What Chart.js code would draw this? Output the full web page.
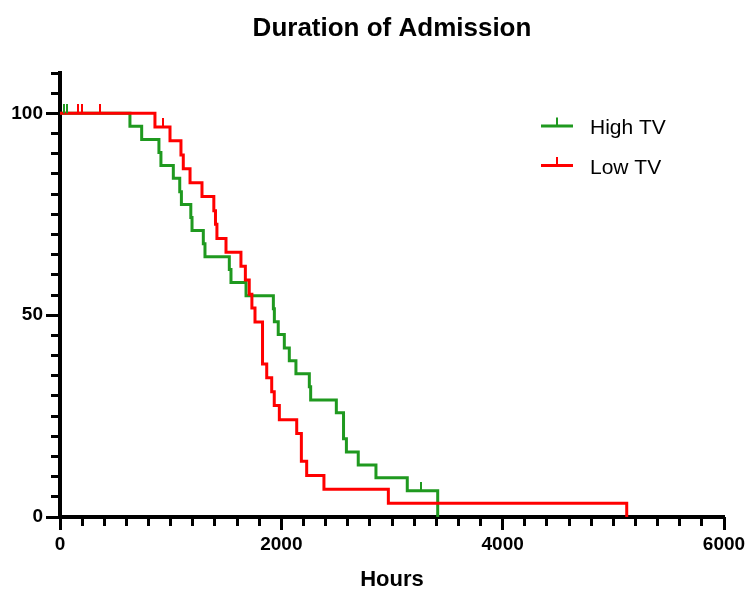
<!DOCTYPE html>
<html>
<head>
<meta charset="utf-8">
<script src="https://cdn.jsdelivr.net/npm/chart.js@4.4.1/dist/chart.umd.min.js"></script>
<style>html,body{margin:0;padding:0;background:#fff}canvas{display:block}</style>
</head>
<body>
<canvas id="c" width="750" height="590"></canvas>
<script>
// ---- data ----
const chartTitle = 'Duration of Admission';
const xAxisTitle = 'Hours';
const seriesNames = ['High TV', 'Low TV'];

const highTimes = [0, 632, 738, 894, 912, 1024, 1082, 1097, 1182, 1193, 1295, 1310, 1530, 1545, 1681, 1928, 1937, 1972, 2027, 2072, 2132, 2253, 2265, 2497, 2562, 2588, 2695, 2855, 3138, 3413];
const highSurv  = [100, 96.8, 93.5, 90.3, 87.1, 83.9, 80.6, 77.4, 74.2, 71.0, 67.7, 64.5, 61.3, 58.1, 54.8, 51.6, 48.4, 45.2, 41.9, 38.7, 35.5, 32.3, 29.0, 25.8, 19.4, 16.1, 12.9, 9.7, 6.5, 0];

const lowTimes = [0, 858, 994, 1093, 1114, 1175, 1283, 1390, 1405, 1418, 1500, 1635, 1675, 1710, 1734, 1762, 1830, 1868, 1913, 1936, 1982, 2139, 2181, 2229, 2385, 2967, 5121];
const lowSurv  = [100, 96.6, 93.2, 89.7, 86.3, 82.8, 79.4, 75.9, 72.5, 69.0, 65.6, 62.1, 58.7, 55.2, 51.8, 48.3, 37.9, 34.5, 31.0, 27.6, 24.1, 20.7, 13.8, 10.3, 6.9, 3.4, 0];

const highCensorTimes = [39, 66, 3259];
const highCensorSurv  = [100, 100, 6.5];
const lowCensorTimes  = [160, 196, 364, 933];
const lowCensorSurv   = [100, 100, 100, 96.6];

const xTickValues = [0, 2000, 4000, 6000];
const yTickValues = [0, 50, 100];

// ---- styling ----
const GREEN = '#1f991f';
const RED = '#ff0000';
const FONT = '"Liberation Sans", Arial, Helvetica, sans-serif';

function pts(xs, ys) { return xs.map((x, i) => ({x: x, y: ys[i]})); }

function censorMark(color) {
  const c = document.createElement('canvas');
  c.width = 2; c.height = 18;
  const g = c.getContext('2d');
  g.fillStyle = color;
  g.fillRect(0, 0, 2, 9);
  return c;
}

const legendPlugin = {
  id: 'kmLegend',
  afterDatasetsDraw(chart) {
    const ctx = chart.ctx;
    const items = [{label: seriesNames[0], color: GREEN}, {label: seriesNames[1], color: RED}];
    const x0 = 541, x1 = 573, xt = 590;
    const rows = [126, 165.5];
    ctx.save();
    items.forEach((it, i) => {
      const y = rows[i];
      ctx.strokeStyle = it.color;
      ctx.lineCap = 'butt';
      ctx.lineWidth = 3;
      ctx.beginPath(); ctx.moveTo(x0, y); ctx.lineTo(x1, y); ctx.stroke();
      ctx.lineWidth = 2;
      ctx.beginPath(); ctx.moveTo((x0 + x1) / 2, y); ctx.lineTo((x0 + x1) / 2, y - 8.5); ctx.stroke();
      ctx.fillStyle = '#000';
      ctx.font = '21px ' + FONT;
      ctx.textAlign = 'left';
      ctx.textBaseline = 'alphabetic';
      ctx.fillText(it.label, xt, y + 8);
    });
    ctx.restore();
  }
};

const tickFmt = v => String(v);

new Chart(document.getElementById('c'), {
  type: 'scatter',
  data: {
    datasets: [
      {
        label: seriesNames[0], type: 'line', data: pts(highTimes, highSurv),
        stepped: 'before', borderColor: GREEN, borderWidth: 3, pointRadius: 0,
        fill: false, order: 3, borderCapStyle: 'butt', borderJoinStyle: 'miter'
      },
      {
        label: seriesNames[1], type: 'line', data: pts(lowTimes, lowSurv),
        stepped: 'before', borderColor: RED, borderWidth: 3, pointRadius: 0,
        fill: false, order: 2, borderCapStyle: 'butt', borderJoinStyle: 'miter'
      },
      {
        label: seriesNames[0] + ' censored', data: pts(highCensorTimes, highCensorSurv),
        showLine: false, pointStyle: censorMark(GREEN), pointRadius: 5, order: 1
      },
      {
        label: seriesNames[1] + ' censored', data: pts(lowCensorTimes, lowCensorSurv),
        showLine: false, pointStyle: censorMark(RED), pointRadius: 5, order: 0
      }
    ]
  },
  options: {
    responsive: false,
    devicePixelRatio: 1,
    animation: false,
    events: [],
    layout: {padding: {left: 0, right: 26, top: 0, bottom: 0}},
    plugins: {
      legend: {display: false},
      tooltip: {enabled: false},
      title: {
        display: true, text: chartTitle, color: '#000', fullSize: false,
        font: {family: FONT, size: 26, weight: 'bold', lineHeight: 1.2},
        padding: {top: 13.4, bottom: 28.4}
      }
    },
    scales: {
      x: {
        type: 'linear', position: 'bottom', min: 0, max: 6000, weight: 1,
        afterBuildTicks: s => { s.ticks = xTickValues.map(v => ({value: v})); },
        afterFit: s => { s.height = 73; },
        ticks: {color: '#000', padding: 3, font: {family: FONT, size: 19, weight: 'bold'}, callback: tickFmt, maxRotation: 0, autoSkip: false},
        grid: {drawOnChartArea: false, drawTicks: true, tickLength: 13, tickWidth: 3, tickColor: '#000'},
        border: {display: true, color: '#000', width: 4},
        title: {display: true, text: xAxisTitle, color: '#000', padding: 0, font: {family: FONT, size: 22, weight: 'bold', lineHeight: 0.9}}
      },
      xMinor: {
        type: 'linear', position: 'bottom', min: 0, max: 6000, weight: 0,
        afterFit: s => { s.height = 0; },
        ticks: {display: false, stepSize: 200},
        grid: {drawOnChartArea: false, drawTicks: true, tickLength: 9, tickWidth: 3, tickColor: '#000'},
        border: {display: false}
      },
      y: {
        type: 'linear', position: 'left', min: 0, max: 110, weight: 1,
        afterBuildTicks: s => { s.ticks = yTickValues.map(v => ({value: v})); },
        afterFit: s => { s.width = 60; },
        ticks: {color: '#000', padding: 3, font: {family: FONT, size: 19, weight: 'bold'}, callback: tickFmt, autoSkip: false},
        grid: {drawOnChartArea: false, drawTicks: true, tickLength: 14, tickWidth: 3, tickColor: '#000'},
        border: {display: true, color: '#000', width: 4}
      },
      yMinor: {
        type: 'linear', position: 'left', min: 0, max: 110, weight: 0,
        afterFit: s => { s.width = 0; },
        ticks: {display: false, stepSize: 5},
        grid: {drawOnChartArea: false, drawTicks: true, tickLength: 9, tickWidth: 3, tickColor: '#000'},
        border: {display: false}
      }
    }
  },
  plugins: [legendPlugin]
});
</script>
</body>
</html>
